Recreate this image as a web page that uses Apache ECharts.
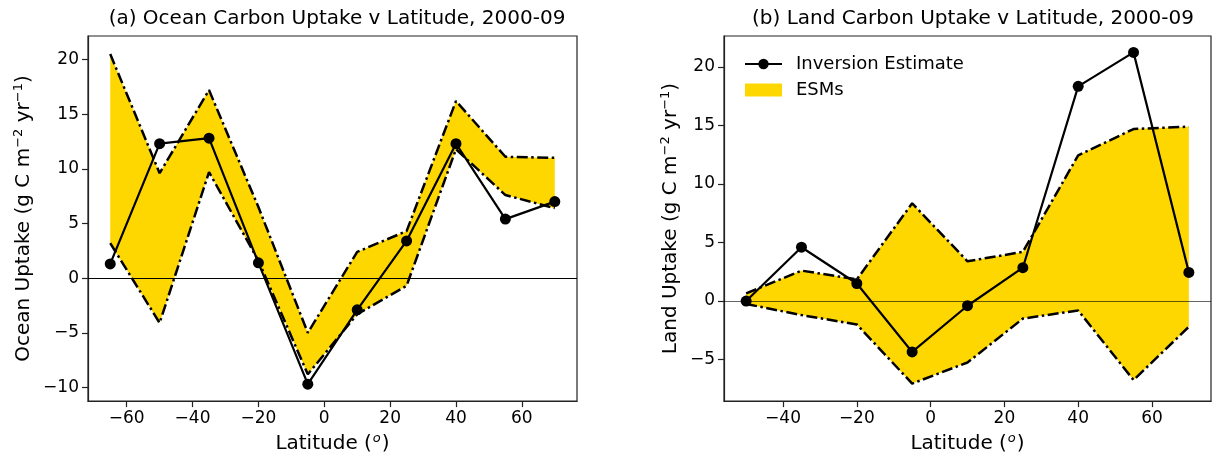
<!DOCTYPE html>
<html>
<head>
<meta charset="utf-8">
<script src="https://cdn.jsdelivr.net/npm/echarts@6/dist/echarts.min.js"></script>
<style>
  html, body { margin: 0; padding: 0; background: #fff; }
  #main { width: 1215px; height: 459px; }
</style>
</head>
<body>
<div id="main"></div>
<script>
    // latitudes of the zonal bands
    var oceanLat = [-65, -50, -35, -20, -5, 10, 25, 40, 55, 70];
    var landLat = [-50, -35, -20, -5, 10, 25, 40, 55, 70];

    // ocean uptake (g C m-2 yr-1)
    var oceanInversion = [1.3, 12.3, 12.8, 1.4, -9.7, -2.9, 3.4, 12.3, 5.4, 7.0];
    var oceanEsmUpper = [20.5, 9.6, 17.2, 6.5, -5.0, 2.4, 4.3, 16.2, 11.1, 11.0];
    var oceanEsmLower = [3.2, -4.1, 9.7, 1.6, -8.8, -3.3, -0.7, 11.8, 7.6, 6.4];

    // land uptake (g C m-2 yr-1)
    var landInversion = [0.0, 4.6, 1.5, -4.35, -0.4, 2.85, 18.35, 21.25, 2.45];
    var landEsmUpper = [0.65, 2.6, 1.85, 8.35, 3.4, 4.2, 12.45, 14.7, 14.9];
    var landEsmLower = [-0.25, -1.2, -2.0, -7.05, -5.25, -1.5, -0.8, -6.75, -2.2];

    // tick labels
    var oceanXTicks = [-60, -40, -20, 0, 20, 40, 60];
    var oceanYTicks = [-10, -5, 0, 5, 10, 15, 20];
    var landXTicks = [-40, -20, 0, 20, 40, 60];
    var landYTicks = [-5, 0, 5, 10, 15, 20];

    var FONT = 'DejaVu Sans';
    var GOLD = '#FFD700';
    var DASHDOT = [11, 3.5, 2.5, 3.5];

    function pairs(xs, ys) {
        return xs.map(function (x, i) { return [x, ys[i]]; });
    }
    function minus(v) {
        return v < 0 ? '\u2212' + Math.abs(v) : String(v);
    }

    function xAxisFor(i, min, max, ticks) {
        return {
            type: 'value', gridIndex: i, min: min, max: max,
            splitLine: { show: false },
            axisLine: { onZero: false, lineStyle: { color: '#222', width: 1.2 } },
            axisTick: { customValues: ticks, length: 6, lineStyle: { color: '#222', width: 1.2 } },
            axisLabel: { customValues: ticks, formatter: minus, fontSize: 17, color: '#000', fontFamily: FONT, margin: 9 },
            name: 'Latitude ({sup|o})',
            nameLocation: 'middle',
            nameGap: 30,
            nameTextStyle: {
                fontSize: 20, color: '#000', fontFamily: FONT,
                rich: { sup: { fontSize: 13, fontStyle: 'italic', fontFamily: FONT, padding: [0, 1, 11, 1] } }
            }
        };
    }
    function yAxisFor(i, min, max, ticks, name, gap) {
        return {
            type: 'value', gridIndex: i, min: min, max: max,
            splitLine: { show: false },
            axisLine: { show: true, onZero: false, lineStyle: { color: '#222', width: 1.2 } },
            axisTick: { show: true, customValues: ticks, length: 6, lineStyle: { color: '#222', width: 1.2 } },
            axisLabel: { customValues: ticks, formatter: minus, fontSize: 17, color: '#000', fontFamily: FONT, margin: 9 },
            name: name,
            nameLocation: 'middle',
            nameRotate: 90,
            nameGap: gap,
            nameTextStyle: {
                fontSize: 20, color: '#000', fontFamily: FONT,
                rich: { sup: { fontSize: 13, fontFamily: FONT, padding: [0, 0, 11, 0] } }
            }
        };
    }

    function panelSeries(i, lat, lower, upper, inv, zeroColor) {
        var band = lat.map(function (x, k) { return [x, lower[k], upper[k]]; });
        return [{
            name: 'ESMs', type: 'custom', xAxisIndex: i, yAxisIndex: i,
            data: band, silent: true, z: 1,
            itemStyle: { color: GOLD },
            renderItem: function (params, api) {
                if (params.dataIndexInside !== 0) return null;
                var n = params.dataInsideLength;
                var top = [], bottom = [];
                for (var k = 0; k < n; k++) {
                    top.push(api.coord([api.value(0, k), api.value(2, k)]));
                    bottom.unshift(api.coord([api.value(0, k), api.value(1, k)]));
                }
                return {
                    type: 'polygon',
                    shape: { points: top.concat(bottom) },
                    style: { fill: GOLD, stroke: null }
                };
            }
        }, {
            type: 'line', xAxisIndex: i, yAxisIndex: i,
            data: pairs(lat, upper),
            symbol: 'none', silent: true, z: 3,
            lineStyle: { color: '#000', width: 2.5, type: DASHDOT }
        }, {
            type: 'line', xAxisIndex: i, yAxisIndex: i,
            data: pairs(lat, lower),
            symbol: 'none', silent: true, z: 3,
            lineStyle: { color: '#000', width: 2.5, type: DASHDOT }
        }, {
            name: 'Inversion Estimate', type: 'line', xAxisIndex: i, yAxisIndex: i,
            data: pairs(lat, inv),
            symbol: 'circle', symbolSize: 11, z: 4,
            color: '#000',
            itemStyle: { color: '#000' },
            lineStyle: { color: '#000', width: 2.2 },
            markLine: {
                silent: true, symbol: 'none', animation: false,
                label: { show: false },
                lineStyle: { color: zeroColor, width: 1, type: 'solid' },
                data: [{ yAxis: 0 }]
            }
        }];
    }

    var myChart = echarts.init(document.getElementById('main'), null, { renderer: 'canvas' });
    var option = {
        animation: false,
        backgroundColor: '#fff',
        textStyle: { fontFamily: FONT },
        title: [{
            text: '(a) Ocean Carbon Uptake v Latitude, 2000-09',
            left: 332, top: 4, textAlign: 'center',
            textStyle: { fontSize: 20, fontWeight: 'normal', color: '#000', fontFamily: FONT }
        }, {
            text: '(b) Land Carbon Uptake v Latitude, 2000-09',
            left: 968, top: 4, textAlign: 'center',
            textStyle: { fontSize: 20, fontWeight: 'normal', color: '#000', fontFamily: FONT }
        }],
        legend: {
            orient: 'vertical', left: 739, top: 50,
            itemWidth: 37, itemHeight: 13, itemGap: 8,
            selectedMode: false,
            textStyle: { fontSize: 18, color: '#000', fontFamily: FONT, padding: [0, 0, 0, 9] },
            data: [
                { name: 'Inversion Estimate' },
                { name: 'ESMs', icon: 'rect', itemStyle: { color: GOLD, borderWidth: 0 } }
            ]
        },
        grid: [
            { left: 88, right: 638, top: 36, bottom: 57, show: true, borderColor: '#222', borderWidth: 1.2 },
            { left: 724, right: 4, top: 36, bottom: 57, show: true, borderColor: '#222', borderWidth: 1.2 }
        ],
        xAxis: [
            xAxisFor(0, -71.75, 76.75, oceanXTicks),
            xAxisFor(1, -56, 76, landXTicks)
        ],
        yAxis: [
            yAxisFor(0, -11.25, 22.15, oceanYTicks, 'Ocean Uptake (g C m{sup|\u22122} yr{sup|\u22121})', 52),
            yAxisFor(1, -8.55, 22.65, landYTicks, 'Land Uptake (g C m{sup|\u22122} yr{sup|\u22121})', 41)
        ],
        series: panelSeries(0, oceanLat, oceanEsmLower, oceanEsmUpper, oceanInversion, '#000')
            .concat(panelSeries(1, landLat, landEsmLower, landEsmUpper, landInversion, 'rgba(0,0,0,0.6)'))
    };
    myChart.setOption(option);

    window.addEventListener('resize', function () {
        if (myChart != null && myChart != undefined) {
            myChart.resize();
        }
    });
</script>
</body>
</html>
